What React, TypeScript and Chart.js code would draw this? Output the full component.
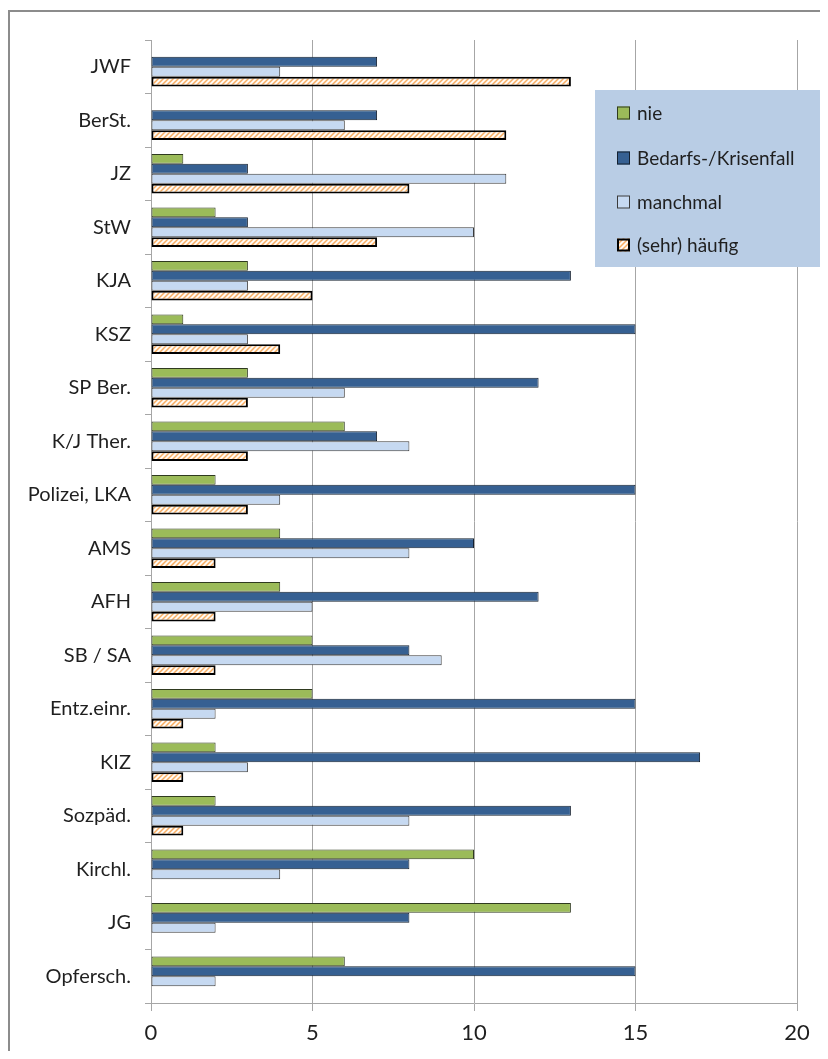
import { useEffect, useRef } from 'react';
import { Chart, registerables } from 'chart.js';

Chart.register(...registerables);

// Kooperationspartner (top to bottom)
const categories = [
  'JWF', 'BerSt.', 'JZ', 'StW', 'KJA', 'KSZ', 'SP Ber.', 'K/J Ther.', 'Polizei, LKA',
  'AMS', 'AFH', 'SB / SA', 'Entz.einr.', 'KIZ', 'Sozpäd.', 'Kirchl.', 'JG', 'Opfersch.',
];

const seriesNames = ['nie', 'Bedarfs-/Krisenfall', 'manchmal', '(sehr) häufig'];

const nie = [0, 0, 1, 2, 3, 1, 3, 6, 2, 4, 4, 5, 5, 2, 2, 10, 13, 6];
const bedarfsfall = [7, 7, 3, 3, 13, 15, 12, 7, 15, 10, 12, 8, 15, 17, 13, 8, 8, 15];
const manchmal = [4, 6, 11, 10, 3, 3, 6, 8, 4, 8, 5, 9, 2, 3, 8, 4, 2, 2];
const haeufig = [13, 11, 8, 7, 5, 4, 3, 3, 3, 2, 2, 2, 1, 1, 1, 0, 0, 0];

const xTicks = [0, 5, 10, 15, 20];

const FONT = 'Lato, "Open Sans", "Liberation Sans", sans-serif';
const TEXT = '#1f1f1f';
const GRID = '#a6a6a6';

const GREEN = '#9bbb59';
const DARK_BLUE = '#366092';
const LIGHT_BLUE = '#c6d9f1';

// Diagonal orange hatch for the "(sehr) häufig" bars
function makeHatch(): CanvasPattern | string {
  const c = document.createElement('canvas');
  c.width = 5;
  c.height = 5;
  const g = c.getContext('2d');
  if (!g) return '#fde9d9';
  g.fillStyle = '#fffaf4';
  g.fillRect(0, 0, 5, 5);
  g.strokeStyle = '#f9ae62';
  g.lineWidth = 1.5;
  g.beginPath();
  g.moveTo(0, 5);
  g.lineTo(5, 0);
  g.moveTo(-1, 1);
  g.lineTo(1, -1);
  g.moveTo(4, 6);
  g.lineTo(6, 4);
  g.stroke();
  return g.createPattern(c, 'repeat') || '#fde9d9';
}

export default function App() {
  const canvasRef = useRef<HTMLCanvasElement | null>(null);

  useEffect(() => {
    const canvas = canvasRef.current;
    if (!canvas) return;
    document.documentElement.style.overflow = 'hidden';
    const hatch = makeHatch();

    const fills = [GREEN, DARK_BLUE, LIGHT_BLUE, hatch];
    const strokes = ['#2f3a1f', '#14202f', '#3a3a3a', '#000000'];
    const widths = [1, 1, 1, 2];

    // Boxed legend placed inside the plot, upper right
    const boxLegend = {
      id: 'boxLegend',
      afterDraw(chart: Chart) {
        const ctx = chart.ctx;
        const area = chart.chartArea;
        const bx = area.right - 202;
        const by = area.top + 50;
        const bw = chart.width - bx;
        const bh = 177;
        ctx.save();
        ctx.fillStyle = '#b9cde5';
        ctx.fillRect(bx, by, bw, bh);
        ctx.font = `19px ${FONT}`;
        ctx.textBaseline = 'middle';
        ctx.textAlign = 'left';
        const rowY = [23, 68, 112, 155];
        seriesNames.forEach((name, i) => {
          const cy = by + rowY[i];
          const sx = bx + 22;
          const sy = cy - 6.5;
          ctx.fillStyle = fills[i] as any;
          ctx.fillRect(sx, sy, 13, 13);
          ctx.lineWidth = widths[i];
          ctx.strokeStyle = strokes[i];
          const inset = widths[i] / 2;
          ctx.strokeRect(sx + inset, sy + inset, 13 - widths[i], 13 - widths[i]);
          ctx.fillStyle = TEXT;
          ctx.fillText(name, bx + 42, cy + 1);
        });
        ctx.restore();
      },
    };

    const seriesData = [nie, bedarfsfall, manchmal, haeufig];

    const chart = new Chart(canvas, {
      type: 'bar',
      data: {
        labels: categories,
        datasets: seriesData.map((d, i) => ({
          label: seriesNames[i],
          data: d,
          backgroundColor: fills[i] as any,
          borderColor: strokes[i],
          borderWidth: widths[i],
          borderSkipped: false,
          categoryPercentage: 0.74,
          barPercentage: 1.0,
        })),
      },
      options: {
        indexAxis: 'y',
        responsive: false,
        animation: false,
        devicePixelRatio: 1,
        layout: { padding: { left: 0, top: 28, right: 31, bottom: 0 } },
        plugins: {
          legend: { display: false },
          tooltip: { enabled: false },
        },
        scales: {
          x: {
            min: 0,
            max: 20,
            afterBuildTicks(scale: any) {
              scale.ticks = xTicks.map((v) => ({ value: v }));
            },
            afterFit(scale: any) {
              scale.height = 48;
            },
            grid: {
              color: GRID,
              lineWidth: 1,
              drawTicks: true,
              tickLength: 8,
              tickColor: GRID,
            },
            border: { display: true, color: GRID, width: 1 },
            ticks: {
              color: TEXT,
              font: { family: FONT, size: 22 },
              padding: 9,
            },
          },
          y: {
            afterFit(scale: any) {
              scale.width = 141;
            },
            grid: {
              offset: true,
              drawOnChartArea: false,
              drawTicks: true,
              tickLength: 6,
              tickColor: GRID,
            },
            border: { display: true, color: GRID, width: 1 },
            ticks: {
              color: TEXT,
              font: { family: FONT, size: 20 },
              padding: 14,
              autoSkip: false,
            },
          },
        },
      },
      plugins: [boxLegend],
    });

    return () => {
      chart.destroy();
    };
  }, []);

  return (
    <div
      style={{
        marginTop: 2,
        width: 818,
        height: 1039,
        borderLeft: '2px solid #8c8c8c',
        borderTop: '2px solid #8c8c8c',
        position: 'relative',
        background: '#ffffff',
      }}
    >
      <canvas
        ref={canvasRef}
        width={818}
        height={1039}
        style={{ display: 'block', width: 818, height: 1039 }}
      />
    </div>
  );
}
